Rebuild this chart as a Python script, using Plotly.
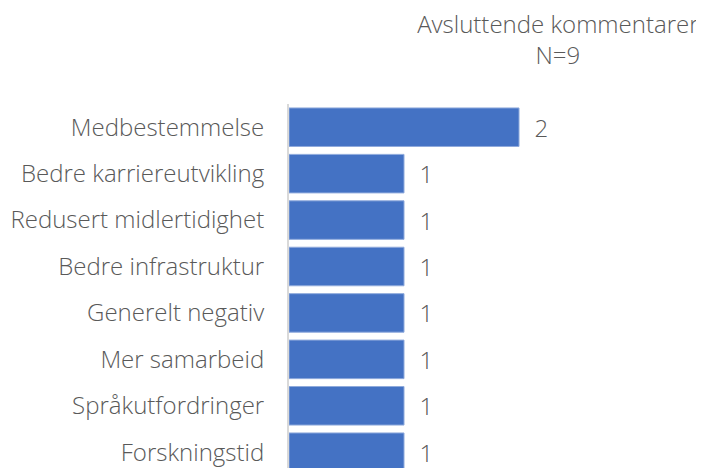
import plotly.graph_objects as go

categories = ["Medbestemmelse", "Bedre karriereutvikling", "Redusert midlertidighet",
              "Bedre infrastruktur", "Generelt negativ", "Mer samarbeid",
              "Språkutfordringer", "Forskningstid"]
values = [2, 1, 1, 1, 1, 1, 1, 1]
title_lines = ["Avsluttende kommentarer", "N=9"]

ypos = list(range(len(categories)))
FONT = "Open Sans"
GRAY = "#595959"
FS = 24

fig = go.Figure(go.Bar(
    x=values, y=ypos, orientation="h",
    marker=dict(color="#4472C4", line=dict(color="#8FAADC", width=1)),
    width=0.83,
    text=["  " + str(v) for v in values],
    textposition="outside", cliponaxis=False,
    textfont=dict(family=FONT, size=FS, color=GRAY, weight=300),
))

fig.update_layout(
    width=704, height=468,
    margin=dict(l=281, r=0, t=96, b=8, autoexpand=False),
    paper_bgcolor="white", plot_bgcolor="white",
    showlegend=False,
    title=dict(text="<br>".join(title_lines), x=0.781, xanchor="center",
               y=0.946, yanchor="top",
               font=dict(family=FONT, size=FS, color=GRAY, weight=300)),
    xaxis=dict(range=[0, 3.678], visible=False, showgrid=False, zeroline=False,
               automargin=False),
    yaxis=dict(range=[7.34, -0.5], tickvals=ypos, ticktext=categories,
               showline=True, linecolor="#D9D9D9", linewidth=2,
               showgrid=False, zeroline=False, ticks="", automargin=False,
               ticklabelstandoff=18,
               tickfont=dict(family=FONT, size=FS, color=GRAY, weight=300)),
)

fig.write_html("out.html")
